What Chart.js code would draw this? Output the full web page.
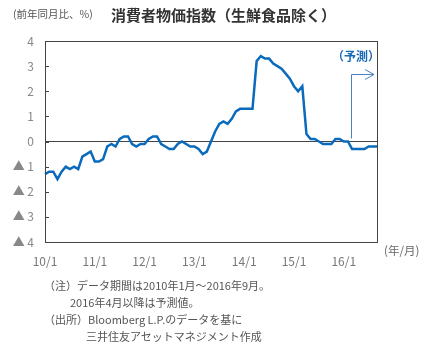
<!DOCTYPE html>
<html><head><meta charset="utf-8">
<script src="https://cdn.jsdelivr.net/npm/chart.js@4/dist/chart.umd.min.js"></script>
<style>
body{margin:0;width:436px;height:356px;background:#fff;position:relative;overflow:hidden;font-family:"Noto Sans CJK JP","Noto Sans",sans-serif;}
#wrap{position:absolute;left:0;top:0;width:436px;height:356px;}
.t{position:absolute;white-space:nowrap;}
</style></head><body>
<div id="wrap"><canvas id="c" width="436" height="356"></canvas></div>
<div class="t" style="left:13px;top:6px;font-size:10.5px;color:#555;">(前年同月比、%)</div>
<div class="t" style="left:111px;top:4px;font-size:15px;font-weight:bold;color:#333;">消費者物価指数（生鮮食品除く）</div>
<div class="t" style="left:332px;top:47px;font-size:12px;font-weight:bold;color:#1a6ab5;">（予測）</div>
<div class="t" style="left:384px;top:242px;font-size:11.5px;color:#666;">(年/月)</div>
<div class="t" style="left:44px;top:277px;font-size:11px;color:#555;">（注）データ期間は2010年1月～2016年9月。</div>
<div class="t" style="left:70px;top:294px;font-size:11px;color:#555;">2016年4月以降は予測値。</div>
<div class="t" style="left:44px;top:311px;font-size:11px;color:#555;">（出所）Bloomberg L.P.のデータを基に</div>
<div class="t" style="left:86px;top:328px;font-size:11px;color:#555;">三井住友アセットマネジメント作成</div>
<script>
// months 2010/1 .. 2016/9
const startYear = 2010;
const monthCount = 81;
const cpi = [
 -1.3,-1.2,-1.2,-1.5,-1.2,-1.0,-1.1,-1.0,-1.1,-0.6,-0.5,-0.4,
 -0.8,-0.8,-0.7,-0.2,-0.1,-0.2,0.1,0.2,0.2,-0.1,-0.2,-0.1,
 -0.1,0.1,0.2,0.2,-0.1,-0.2,-0.3,-0.3,-0.1,0.0,-0.1,-0.2,
 -0.2,-0.3,-0.5,-0.4,0.0,0.4,0.7,0.8,0.7,0.9,1.2,1.3,
 1.3,1.3,1.3,3.2,3.4,3.3,3.3,3.1,3.0,2.9,2.7,2.5,
 2.2,2.0,2.2,0.3,0.1,0.1,0.0,-0.1,-0.1,-0.1,0.1,0.1,
 0.0,0.0,-0.3,-0.3,-0.3,-0.3,-0.2,-0.2,-0.2
];
const yTicks = [4,3,2,1,0,-1,-2,-3,-4];
const forecastMarkIndex = 73.8; // position of the forecast arrow
const forecastArrowTop = 2.7;   // value level of the arrow
const labels = [];
for (let i = 0; i < monthCount; i++) {
  const y = startYear + Math.floor(i / 12), m = i % 12 + 1;
  labels.push((y % 100) + '/' + m);
}
const frame = {
  id: 'frame',
  afterDraw(chart) {
    const {ctx, chartArea: a, scales: {x, y}} = chart;
    ctx.save();
    ctx.strokeStyle = '#444'; ctx.lineWidth = 1;
    ctx.strokeRect(Math.round(a.left) + 0.5, Math.round(a.top) + 0.5, Math.round(a.right - a.left), Math.round(a.bottom - a.top));
    // inward ticks on the left axis
    yTicks.forEach(v => {
      const py = Math.round(y.getPixelForValue(v)) + 0.5;
      ctx.beginPath(); ctx.moveTo(a.left, py); ctx.lineTo(a.left + 4, py); ctx.stroke();
    });
    // forecast arrow
    const px = Math.round(x.getPixelForValue(forecastMarkIndex)) + 0.5;
    const y0 = y.getPixelForValue(0) - 3;
    const yt = Math.round(y.getPixelForValue(forecastArrowTop)) + 0.5;
    const xe = a.right - 3;
    ctx.strokeStyle = '#4a80c4';
    ctx.beginPath(); ctx.moveTo(px, y0); ctx.lineTo(px, yt); ctx.lineTo(xe, yt); ctx.stroke();
    ctx.beginPath(); ctx.moveTo(xe - 9, yt - 5); ctx.lineTo(xe, yt); ctx.lineTo(xe - 9, yt + 5); ctx.stroke();
    ctx.restore();
  }
};
new Chart(document.getElementById('c'), {
  type: 'line',
  data: { labels, datasets: [{ data: cpi, borderColor: '#0a6bbd', borderWidth: 2.5, pointRadius: 0, tension: 0, fill: false }] },
  options: {
    responsive: false, animation: false,
    layout: { padding: { top: 41, right: 59, bottom: 0, left: 0 } },
    plugins: { legend: { display: false }, tooltip: { enabled: false } },
    scales: {
      x: {
        type: 'category', offset: false,
        grid: { display: false, drawTicks: false },
        border: { display: false },
        ticks: {
          autoSkip: false, maxRotation: 0, padding: 12,
          color: '#777', font: { family: '"Noto Sans CJK JP", sans-serif', size: 12 },
          callback: (v, i) => (i % 12 === 0 ? labels[i] : null)
        },
        afterFit: s => { s.height = 114; }
      },
      y: {
        min: -4, max: 4,
        afterBuildTicks: s => { s.ticks = yTicks.map(v => ({ value: v })); },
        grid: { drawTicks: false, color: c => (c.tick && c.tick.value === 0 ? '#444' : 'rgba(0,0,0,0)'), lineWidth: 1 },
        border: { display: false },
        ticks: {
          padding: 11, color: '#888', font: { family: '"Noto Sans CJK JP", sans-serif', size: 12 },
          callback: v => (v < 0 ? '▲ ' + (-v) : String(v))
        },
        afterFit: s => { s.width = 45; }
      }
    }
  },
  plugins: [frame]
});
</script>
</body></html>
